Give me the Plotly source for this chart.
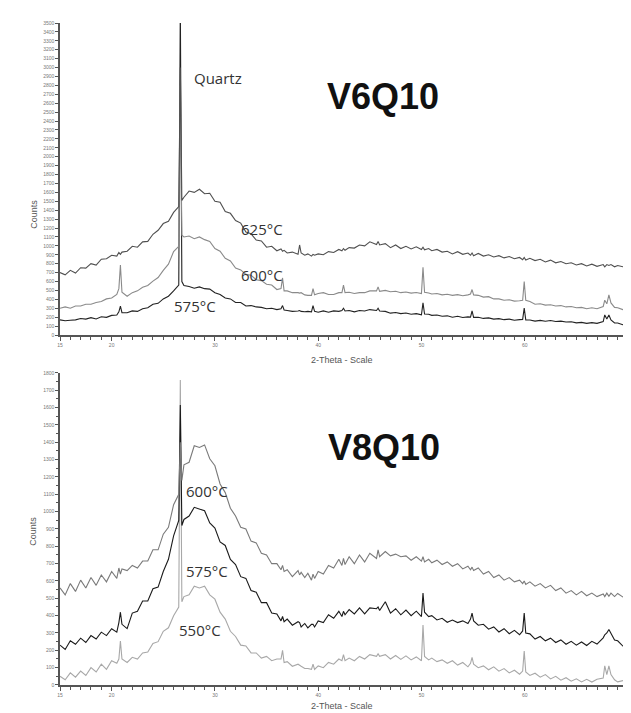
import plotly.graph_objects as go

# 2-theta grid (degrees)
two_theta = [
    15.0, 15.5, 16.0, 16.5, 17.0, 17.5, 18.0, 18.5, 19.0, 19.5,
    20.0, 20.5, 20.7, 20.85, 21.0, 21.5, 22.0, 22.5, 23.0, 23.5,
    24.0, 24.5, 25.0, 25.5, 26.0, 26.5, 26.65, 26.8, 27.0, 27.5,
    28.0, 28.5, 29.0, 29.5, 30.0, 30.5, 31.0, 31.5, 32.0, 32.5,
    33.0, 33.5, 34.0, 34.5, 35.0, 35.5, 36.0, 36.4, 36.55, 36.7,
    37.0, 37.5, 38.05, 38.2, 38.35, 38.7, 39.0, 39.35, 39.5, 39.65,
    40.0, 40.5, 41.0, 41.5, 42.0, 42.3, 42.45, 42.6, 43.0, 43.5,
    44.0, 44.5, 45.0, 45.65, 45.8, 45.95, 46.5, 47.0, 47.5, 48.0,
    48.5, 49.0, 49.5, 50.0, 50.15, 50.3, 50.7, 51.0, 51.5, 52.0,
    52.5, 53.0, 53.5, 54.0, 54.5, 54.75, 54.9, 55.05, 55.5, 56.0,
    56.5, 57.0, 57.5, 58.0, 58.5, 59.0, 59.5, 59.8, 59.95, 60.1,
    60.5, 61.0, 61.5, 62.0, 62.5, 63.0, 63.5, 64.0, 64.5, 65.0,
    65.5, 66.0, 66.5, 67.0, 67.6, 67.75, 67.95, 68.15, 68.35, 68.7,
    69.0, 69.5, 70.0,
]

# V6Q10 counts
v6_625 = [
    700, 675, 725, 695, 755, 750, 800, 785, 850, 855,
    895, 885, 925, 905, 930, 940, 995, 985, 1045, 1050,
    1130, 1175, 1250, 1275, 1375, 1440, 3000, 1510, 1545, 1615,
    1600, 1635, 1585, 1590, 1500, 1490, 1385, 1365, 1285, 1255,
    1155, 1135, 1065, 1055, 985, 995, 945, 965, 940, 950,
    920, 930, 905, 1010, 920, 895, 910, 885, 905, 895,
    910, 900, 935, 925, 960, 945, 970, 950, 980, 975,
    1010, 1000, 1045, 1015, 1050, 1010, 1025, 980, 1010, 970,
    995, 965, 990, 960, 985, 955, 970, 945, 960, 930,
    940, 910, 935, 905, 920, 895, 920, 890, 915, 885,
    900, 875, 890, 865, 880, 855, 870, 845, 870, 840,
    860, 835, 850, 820, 840, 810, 825, 800, 810, 785,
    800, 775, 795, 770, 790, 765, 790, 780, 790, 765,
    780, 765, 775,
]
v6_600 = [
    300, 315, 300, 325, 325, 345, 345, 365, 375, 405,
    415, 455, 520, 785, 480, 435, 475, 495, 535, 555,
    605, 645, 725, 795, 935, 995, 2800, 1120, 1100, 1110,
    1080, 1100, 1070, 1050, 970, 940, 860, 830, 750, 730,
    680, 670, 620, 610, 570, 560, 510, 520, 640, 495,
    495, 475, 475, 470, 475, 450, 445, 445, 520, 450,
    465, 475, 455, 455, 475, 475, 560, 475, 480, 465,
    475, 475, 495, 495, 540, 490, 500, 485, 490, 475,
    483, 470, 477, 465, 760, 480, 472, 460, 465, 450,
    457, 445, 453, 440, 450, 460, 510, 450, 445, 425,
    430, 405, 405, 390, 395, 380, 385, 390, 600, 390,
    375, 345, 350, 335, 340, 325, 330, 315, 320, 305,
    310, 295, 305, 295, 320, 390, 350, 450, 360, 310,
    305, 285, 280,
]
v6_575 = [
    170, 160, 165, 170, 185, 178, 195, 180, 205, 198,
    220, 225, 260, 325, 250, 250, 270, 265, 295, 305,
    345, 355, 405, 435, 494, 560, 3700, 600, 555, 545,
    525, 540, 520, 515, 475, 455, 415, 405, 365, 365,
    325, 330, 315, 310, 295, 300, 285, 295, 330, 280,
    275, 265, 270, 275, 265, 260, 265, 260, 330, 265,
    255, 270, 255, 270, 265, 275, 300, 270, 275, 260,
    275, 270, 285, 275, 300, 270, 265, 245, 253, 240,
    247, 233, 240, 226, 360, 235, 232, 220, 225, 210,
    215, 200, 210, 196, 203, 200, 270, 198, 199, 186,
    192, 178, 184, 172, 178, 166, 172, 175, 303, 170,
    169, 156, 164, 155, 162, 151, 156, 146, 149, 136,
    142, 131, 139, 131, 150, 225, 180, 225, 170, 135,
    134, 116, 112,
]

# V8Q10 counts
v8_600 = [
    560, 520, 585, 540, 605, 560, 620, 575, 635, 595,
    655, 615, 675, 640, 670, 660, 690, 675, 715, 715,
    780, 780, 870, 910, 1040, 1100, 1400, 1180, 1270, 1285,
    1380, 1370, 1385, 1305, 1265, 1160, 1110, 1020, 975, 910,
    900, 830, 820, 760, 750, 700, 700, 665, 690, 655,
    665, 625, 660, 635, 650, 620, 645, 605, 640, 615,
    655, 640, 690, 675, 725, 690, 730, 695, 740, 700,
    750, 710, 760, 730, 780, 740, 770, 745, 755, 740,
    745, 720, 740, 715, 740, 710, 725, 705, 720, 695,
    710, 685, 700, 670, 685, 665, 680, 660, 675, 640,
    655, 620, 635, 605, 620, 595, 605, 585, 600, 580,
    595, 570, 585, 560, 575, 545, 560, 530, 545, 520,
    540, 515, 530, 510, 525, 510, 530, 512, 530, 510,
    528, 508, 520,
]
v8_575 = [
    230, 205, 255, 235, 270, 245, 285, 265, 305, 285,
    325, 305, 360, 420, 350, 325, 415, 425, 485, 485,
    555, 565, 655, 725, 860, 950, 1616, 920, 955, 975,
    1025, 1015, 1005, 935, 905, 825, 805, 725, 695, 625,
    615, 545, 535, 475, 475, 415, 410, 370, 395, 365,
    380, 345, 365, 360, 335, 355, 330, 350, 350, 335,
    370, 360, 405, 385, 425, 395, 425, 405, 435, 410,
    445, 410, 445, 440, 450, 430, 480, 415, 440, 405,
    432, 400, 426, 395, 530, 420, 395, 400, 375, 385,
    362, 375, 360, 370, 355, 380, 415, 370, 345, 350,
    322, 335, 306, 325, 296, 315, 290, 312, 415, 300,
    295, 265, 280, 255, 270, 245, 260, 235, 252, 230,
    248, 228, 252, 236, 272, 290, 300, 320, 295, 260,
    255, 225, 225,
]
v8_550 = [
    50, 30, 70, 45, 80, 55, 100, 75, 120, 90,
    140, 125, 150, 254, 150, 130, 160, 150, 185, 190,
    240, 250, 310, 330, 400, 450, 1760, 480, 510, 520,
    570, 560, 570, 520, 495, 420, 380, 310, 280, 230,
    225, 185, 185, 155, 165, 140, 150, 150, 200, 130,
    135, 108, 120, 112, 108, 95, 95, 90, 120, 90,
    110, 100, 130, 120, 150, 140, 175, 140, 155, 140,
    165, 150, 175, 165, 180, 165, 175, 150, 170, 148,
    168, 145, 162, 140, 346, 165, 145, 155, 135, 145,
    125, 140, 115, 130, 105, 125, 160, 120, 100, 110,
    88, 105, 80, 95, 70, 85, 62, 80, 196, 75,
    55, 68, 45, 60, 35, 50, 28, 42, 22, 36,
    18, 33, 17, 33, 40, 110, 60, 110, 60, 30,
    18, 25, 10,
]

x_tick_vals = [15, 20, 30, 40, 50, 60, 70]
x_tick_text = ["15", "20", "30", "40", "50", "60", "70"]

fig = go.Figure()

top_series = [
    ("575°C", v6_575, "#222222"),
    ("600°C", v6_600, "#8a8a8a"),
    ("625°C", v6_625, "#505050"),
]
bottom_series = [
    ("550°C", v8_550, "#a8a8a8"),
    ("575°C", v8_575, "#1a1a1a"),
    ("600°C", v8_600, "#7a7a7a"),
]
for name, ys, col in top_series:
    fig.add_trace(go.Scatter(x=two_theta, y=ys, mode="lines", name=name,
                             line=dict(color=col, width=1.1), xaxis="x", yaxis="y",
                             showlegend=False))
for name, ys, col in bottom_series:
    fig.add_trace(go.Scatter(x=two_theta, y=ys, mode="lines", name=name,
                             line=dict(color=col, width=1.1), xaxis="x2", yaxis="y2",
                             showlegend=False))

tickfont = dict(family="Liberation Sans, Arial, sans-serif", size=5, color="#777777")
axis_common = dict(showgrid=False, zeroline=False, showline=True, linecolor="#555555",
                   linewidth=1.5, ticks="outside", ticklen=3, tickcolor="#555555",
                   tickwidth=1, tickfont=tickfont)

xcommon = dict(axis_common, range=[15, 70], tickmode="array", tickvals=x_tick_vals,
               ticktext=x_tick_text, ticklen=4,
               minor=dict(tickmode="linear", tick0=15, dtick=1, ticklen=3,
                          ticks="outside", tickcolor="#555555"))

fig.update_layout(
    width=631, height=713,
    margin=dict(l=52, r=8, t=15, b=36),
    paper_bgcolor="white", plot_bgcolor="white",
    xaxis=dict(xcommon, anchor="y", domain=[0, 1]),
    yaxis=dict(axis_common, anchor="x", domain=[0.5287, 1.0], range=[0, 3500],
               tickmode="linear", tick0=0, dtick=100),
    xaxis2=dict(xcommon, anchor="y2", domain=[0, 1]),
    yaxis2=dict(axis_common, anchor="x2", domain=[0.0, 0.4713], range=[0, 1800],
                tickmode="linear", tick0=0, dtick=100,
                minor=dict(tickmode="linear", tick0=0, dtick=50, ticklen=2,
                           ticks="outside", tickcolor="#555555")),
)

small = dict(family="Liberation Sans, Arial, sans-serif", size=9, color="#555555")
lab = dict(family="Open Sans, sans-serif", size=15, color="#333333")
big = dict(family="Liberation Sans, Arial, sans-serif", size=36, color="#111111")

annotations = [
    dict(text="Counts", xref="paper", yref="paper", x=-0.0595, y=0.7356, textangle=-90,
         showarrow=False, font=small),
    dict(text="Counts", xref="paper", yref="paper", x=-0.0595, y=0.207, textangle=-90,
         showarrow=False, font=small),
    dict(text="2-Theta - Scale", xref="paper", yref="paper", x=0.4956, y=0.491,
         showarrow=False, font=small),
    dict(text="2-Theta - Scale", xref="paper", yref="paper", x=0.4956, y=-0.042,
         showarrow=False, font=small),
    dict(text="Quartz", xref="x", yref="y", x=30.3, y=2880, showarrow=False, font=lab),
    dict(text="<b>V6Q10</b>", xref="x", yref="y", x=46.25, y=2670, showarrow=False, font=big),
    dict(text="625°C", xref="x", yref="y", x=34.6, y=1190, showarrow=False, font=lab),
    dict(text="600°C", xref="x", yref="y", x=34.6, y=670, showarrow=False, font=lab),
    dict(text="575°C", xref="x", yref="y", x=28.1, y=325, showarrow=False, font=lab),
    dict(text="<b>V8Q10</b>", xref="x2", yref="y2", x=46.4, y=1370, showarrow=False, font=big),
    dict(text="600°C", xref="x2", yref="y2", x=29.2, y=1120, showarrow=False, font=lab),
    dict(text="575°C", xref="x2", yref="y2", x=29.2, y=658, showarrow=False, font=lab),
    dict(text="550°C", xref="x2", yref="y2", x=28.6, y=317, showarrow=False, font=lab),
]
fig.update_layout(annotations=annotations)

fig.write_html("out.html")
